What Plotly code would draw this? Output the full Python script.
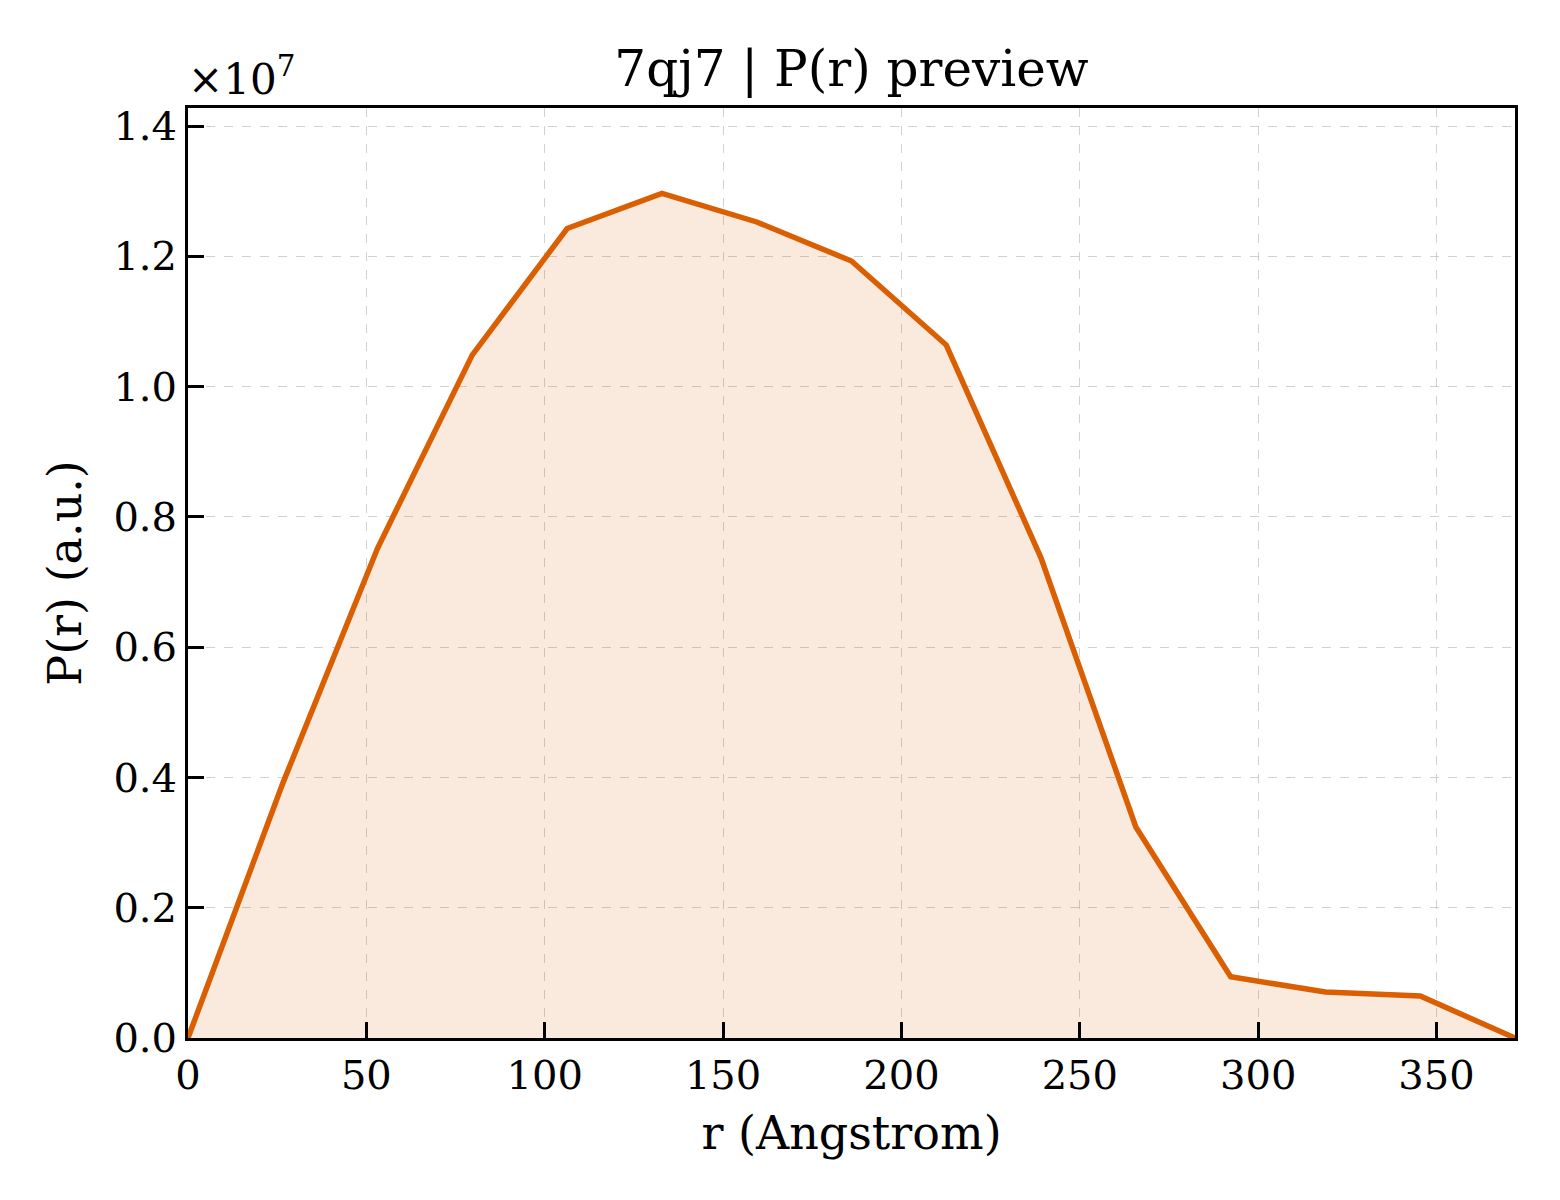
import plotly.graph_objects as go

r_angstrom = [0.0, 26.57, 53.14, 79.71, 106.29, 132.86, 159.43, 186.0,
              212.57, 239.14, 265.71, 292.29, 318.86, 345.43, 372.0]
p_r = [0.0, 0.391e7, 0.752e7, 1.049e7, 1.243e7, 1.297e7, 1.253e7, 1.193e7,
       1.064e7, 0.737e7, 0.324e7, 0.094e7, 0.0706e7, 0.0645e7, 0.0]

y_tickvals = [0, 0.2e7, 0.4e7, 0.6e7, 0.8e7, 1.0e7, 1.2e7, 1.4e7]
y_ticktext = ["0.0", "0.2", "0.4", "0.6", "0.8", "1.0", "1.2", "1.4"]
x_tickvals = [0, 50, 100, 150, 200, 250, 300, 350]

color = "#D95F02"
font_family = "DejaVu Serif"

fig = go.Figure()
fig.add_trace(go.Scatter(
    x=r_angstrom, y=p_r, mode="lines",
    line=dict(color=color, width=5.5),
    fill="tozeroy", fillcolor="rgba(217,95,2,0.13)",
    showlegend=False,
))

axis_common = dict(
    showline=True, linecolor="black", linewidth=3, mirror=True,
    ticks="inside", ticklen=16, tickwidth=2.5, tickcolor="black",
    showgrid=True, gridcolor="rgba(185,185,185,0.65)", griddash="dash", gridwidth=1.3,
    zeroline=False,
    tickfont=dict(family=font_family, size=40, color="black"),
)

fig.update_layout(
    width=1560, height=1200,
    paper_bgcolor="white", plot_bgcolor="white",
    margin=dict(l=180, r=53, t=100, b=170),
    title=dict(text="7qj7 | P(r) preview", x=0.5, xref="paper", xanchor="center",
               y=1 - 60 / 1200, yanchor="middle",
               font=dict(family=font_family, size=50, color="black")),
    xaxis=dict(range=[0, 372], tickvals=x_tickvals,
               title=dict(text="r (Angstrom)", standoff=20,
                          font=dict(family=font_family, size=46, color="black")),
               **axis_common),
    yaxis=dict(range=[0, 1.428e7], tickvals=y_tickvals, ticktext=y_ticktext,
               title=dict(text="P(r) (a.u.)", standoff=18,
                          font=dict(family=font_family, size=46, color="black")),
               **axis_common),
    annotations=[dict(text="×10<sup>7</sup>", xref="paper", yref="paper",
                      x=0, y=1.0, xanchor="left", yanchor="bottom", showarrow=False,
                      xshift=-2, yshift=2,
                      font=dict(family=font_family, size=42, color="black"))],
)

fig.write_html("out.html")
